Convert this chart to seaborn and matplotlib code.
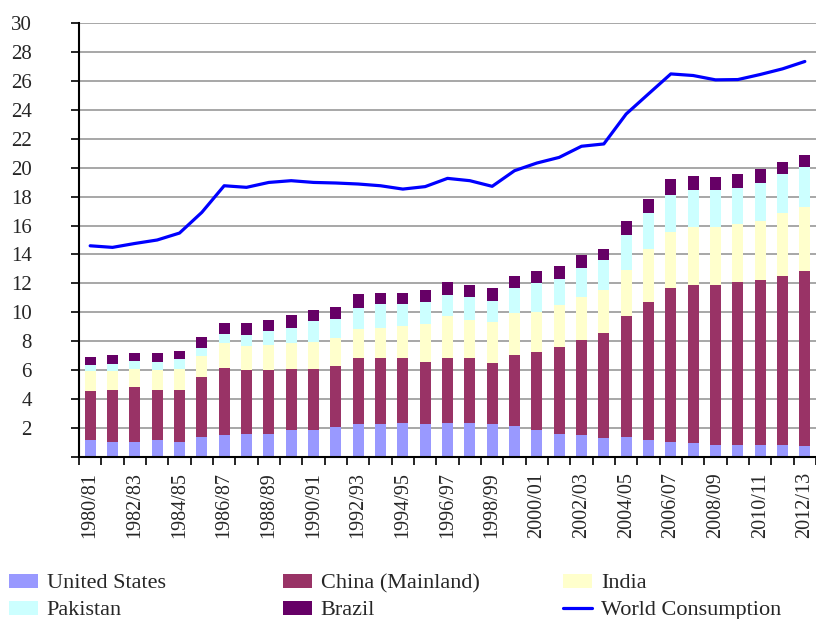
import numpy as np
import pandas as pd
import seaborn as sns
from matplotlib import pyplot as plt
from matplotlib.patches import Patch
from matplotlib.lines import Line2D

# season labels, 1980/81 .. 2012/13
seasons = ["{0}/{1:02d}".format(y, (y + 1) % 100) for y in range(1980, 2013)]

# million tonnes
us = [1.18, 1.06, 1.06, 1.18, 1.06, 1.41, 1.50, 1.61, 1.61, 1.85, 1.85, 2.05, 2.28, 2.28, 2.38, 2.28, 2.38,
      2.38, 2.26, 2.15, 1.85, 1.61, 1.50, 1.29, 1.41, 1.18, 1.06, 0.95, 0.85, 0.85, 0.85, 0.85, 0.74]
china = [3.36, 3.58, 3.81, 3.46, 3.58, 4.10, 4.64, 4.41, 4.41, 4.22, 4.22, 4.25, 4.55, 4.55, 4.45, 4.32, 4.45,
         4.45, 4.22, 4.89, 5.42, 5.96, 6.62, 7.25, 8.35, 9.50, 10.61, 10.93, 11.03, 11.26, 11.38, 11.68, 12.13]
india = [1.39, 1.29, 1.24, 1.36, 1.47, 1.48, 1.73, 1.64, 1.75, 1.84, 1.91, 1.91, 2.03, 2.12, 2.24, 2.58, 2.90,
         2.67, 2.82, 2.90, 2.76, 2.93, 2.91, 3.02, 3.20, 3.69, 3.85, 3.99, 3.99, 3.99, 4.10, 4.31, 4.43]
pakistan = [0.41, 0.53, 0.53, 0.55, 0.67, 0.53, 0.62, 0.74, 0.95, 1.04, 1.39, 1.36, 1.47, 1.62, 1.50, 1.50, 1.50,
            1.53, 1.50, 1.73, 1.97, 1.80, 2.03, 2.05, 2.38, 2.47, 2.61, 2.58, 2.58, 2.49, 2.59, 2.72, 2.77]
brazil = [0.56, 0.58, 0.58, 0.67, 0.53, 0.78, 0.78, 0.87, 0.76, 0.88, 0.78, 0.81, 0.93, 0.78, 0.78, 0.88, 0.86,
          0.87, 0.87, 0.86, 0.85, 0.87, 0.90, 0.76, 0.95, 0.97, 1.09, 1.00, 0.88, 0.97, 0.96, 0.85, 0.78]
world = [14.60, 14.49, 14.76, 15.00, 15.48, 16.91, 18.75, 18.64, 18.98, 19.10, 18.98, 18.94, 18.87, 18.75,
         18.52, 18.69, 19.26, 19.10, 18.71, 19.79, 20.32, 20.71, 21.48, 21.64, 23.71, 25.10, 26.48, 26.37,
         26.07, 26.09, 26.44, 26.83, 27.34]

series = ["United States", "China (Mainland)", "India", "Pakistan", "Brazil"]
colors = {"United States": "#9999ff", "China (Mainland)": "#993366", "India": "#ffffcc",
          "Pakistan": "#ccffff", "Brazil": "#660066"}
line_color = "#0000ff"

frame = pd.DataFrame({"United States": us, "China (Mainland)": china, "India": india,
                      "Pakistan": pakistan, "Brazil": brazil}, index=seasons)
stacked = frame.cumsum(axis=1)
stacked["season"] = seasons

sns.set_theme(style="white")
plt.rcParams["font.family"] = ["Liberation Serif", "DejaVu Serif"]

fig = plt.figure(figsize=(8.16, 6.19), dpi=100)
ax = fig.add_axes([79 / 816, 162 / 619, 737 / 816, 434 / 619])

# draw the tallest cumulative level first so the lower ones sit on top of it
for name in reversed(series):
    sns.barplot(data=stacked, x="season", y=name, order=seasons, color=colors[name],
                saturation=1, width=0.5, linewidth=0, ax=ax, zorder=2)

sns.lineplot(x=np.arange(len(seasons)), y=world, color=line_color, linewidth=2.3, ax=ax, zorder=3)

ax.set_xlim(-0.5, len(seasons) - 0.5)
ax.set_ylim(0, 30)
ax.set_xlabel("")
ax.set_ylabel("")

yticks = list(range(0, 31, 2))
ax.set_yticks(yticks)
ax.set_yticklabels([""] + [str(v) for v in yticks[1:]], fontsize=15)
ax.tick_params(axis="y", direction="out", length=6, width=1.2, pad=28, color="black", left=True)

ax.set_xticks(np.arange(0, len(seasons), 2))
ax.set_xticklabels(seasons[::2], rotation=90, fontsize=14.5)
ax.set_xticks(np.arange(-0.5, len(seasons), 1), minor=True)
ax.tick_params(axis="x", which="major", length=0, pad=11)
ax.tick_params(axis="x", which="minor", direction="out", length=6, width=1.2, color="black", bottom=True)

ax.yaxis.grid(True, color="#a0a0a0", linewidth=1.3)
ax.xaxis.grid(False)
ax.set_axisbelow(True)
for side in ["top", "right"]:
    ax.spines[side].set_visible(False)
for side in ["left", "bottom"]:
    ax.spines[side].set_color("black")
    ax.spines[side].set_linewidth(1.5)

# legend: three fixed-width columns like the spreadsheet original
handles = {name: Patch(facecolor=colors[name], edgecolor="none") for name in series}
handles["World Consumption"] = Line2D([], [], color=line_color, linewidth=2.3)
columns = [(9, ["United States", "Pakistan"]),
           (283, ["China (Mainland)", "Brazil"]),
           (563, ["India", "World Consumption"])]
for x_px, names in columns:
    fig.legend([handles[n] for n in names], names, loc="center left",
               bbox_to_anchor=(x_px / 816, 1 - 597 / 619), frameon=False, fontsize=16,
               borderpad=0, borderaxespad=0, handlelength=1.3, handleheight=0.6,
               handletextpad=0.4, labelspacing=0.32)

fig.savefig("out.png", dpi=100)
